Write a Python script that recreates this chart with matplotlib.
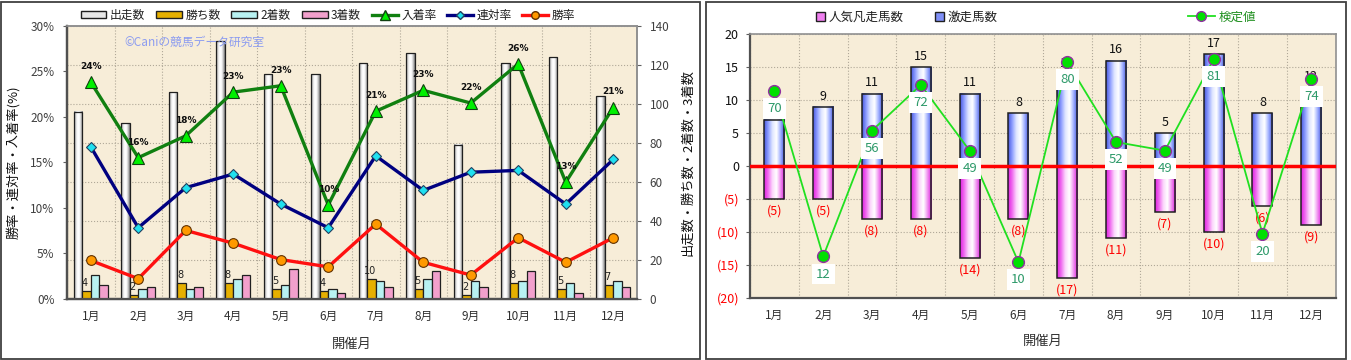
import numpy as np
import matplotlib
matplotlib.use("Agg")
import matplotlib.pyplot as plt
from matplotlib.colors import LinearSegmentedColormap
from matplotlib.patches import Patch, Rectangle
from matplotlib.lines import Line2D
from matplotlib.ticker import FixedLocator, FixedFormatter

plt.rcParams['font.family'] = ['Noto Sans CJK JP', 'DejaVu Sans']

# ---------------- data ----------------
months = ['1月', '2月', '3月', '4月', '5月', '6月', '7月', '8月', '9月', '10月', '11月', '12月']

starts = [96, 90, 106, 132, 115, 115, 121, 126, 79, 121, 124, 104]      # 出走数
wins = [4, 2, 8, 8, 5, 4, 10, 5, 2, 8, 5, 7]                              # 勝ち数
seconds = [12, 5, 5, 10, 7, 5, 9, 10, 9, 9, 8, 9]                         # 2着数
thirds = [7, 6, 6, 12, 15, 3, 6, 14, 6, 14, 3, 6]                         # 3着数
place_rate = [23.8, 15.5, 17.9, 22.7, 23.4, 10.3, 20.6, 22.9, 21.5, 25.8, 12.8, 21.0]  # 入着率
place_labels = ['24%', '16%', '18%', '23%', '23%', '10%', '21%', '23%', '22%', '26%', '13%', '21%']
quinella_rate = [16.7, 7.8, 12.2, 13.7, 10.4, 7.8, 15.7, 11.9, 13.9, 14.1, 10.4, 15.3]  # 連対率
win_rate = [4.2, 2.2, 7.5, 6.1, 4.3, 3.5, 8.2, 4.0, 2.6, 6.7, 4.0, 6.7]              # 勝率

fav_fail = [5, 5, 8, 8, 14, 8, 17, 11, 7, 10, 6, 9]        # 人気凡走馬数
longshot = [7, 9, 11, 15, 11, 8, 14, 16, 5, 17, 8, 12]     # 激走馬数
test_value = [70, 12, 56, 72, 49, 10, 80, 52, 49, 81, 20, 74]  # 検定値

left_pct_ticks = [0, 5, 10, 15, 20, 25, 30]
left_cnt_ticks = [0, 20, 40, 60, 80, 100, 120, 140]
right_ticks = [-20, -15, -10, -5, 0, 5, 10, 15, 20]
right_tick_labels = ['(20)', '(15)', '(10)', '(5)', '0', '5', '10', '15', '20']

# ---------------- helpers ----------------
W, H = 1351, 360
BG = '#F7EDD8'


def gradient(ax, bars, colors):
    cmap = LinearSegmentedColormap.from_list('g', colors)
    grad = np.linspace(0, 1, 64).reshape(1, -1)
    for b in bars:
        x, y = b.get_x(), b.get_y()
        w, h = b.get_width(), b.get_height()
        ax.imshow(grad, extent=[x, x + w, y, y + h], aspect='auto',
                  cmap=cmap, zorder=b.get_zorder() - 0.05,
                  interpolation='bilinear')
        b.set_facecolor('none')


def style_spines(ax):
    for s in ['left', 'bottom']:
        ax.spines[s].set_color('#505050')
        ax.spines[s].set_linewidth(1.6)
    for s in ['top', 'right']:
        ax.spines[s].set_color('#909090')
        ax.spines[s].set_linewidth(1.2)


fig = plt.figure(figsize=(W / 100, H / 100), dpi=100)
fig.patch.set_facecolor('white')

# panel borders
fig.add_artist(Rectangle((1 / W, 1 / H), 699 / W, 357 / H, transform=fig.transFigure,
                         fill=False, edgecolor='#404040', lw=1.3))
fig.add_artist(Rectangle((706 / W, 1 / H), 640 / W, 357 / H, transform=fig.transFigure,
                         fill=False, edgecolor='#404040', lw=1.3))

# =============== LEFT CHART ===============
x = np.arange(1, 13)
axC = fig.add_axes([67 / W, 1 - 298.7 / H, 570 / W, 273 / H])
axC.set_facecolor(BG)
bw = 0.18
b0 = axC.bar(x - 1.5 * bw, starts, bw, edgecolor='#202020', lw=0.9, zorder=3)
gradient(axC, b0, ['#8c8c8c', '#d8d8d8', '#ffffff', '#ffffff', '#c8c8c8', '#7a7a7a'])
b1 = axC.bar(x - 0.5 * bw, wins, bw, color='#E6B000', edgecolor='#202020', lw=0.9, zorder=3)
b2 = axC.bar(x + 0.5 * bw, seconds, bw, color='#B8F2F2', edgecolor='#202020', lw=0.9, zorder=3)
b3 = axC.bar(x + 1.5 * bw, thirds, bw, color='#F2A0CC', edgecolor='#202020', lw=0.9, zorder=3)
for xi, v in zip(x, wins):
    axC.annotate(str(v), (xi - 0.5 * bw, v), xytext=(-1, 2), textcoords='offset points',
                 ha='center', va='bottom', fontsize=7, color='#202020', zorder=6,
                 family='DejaVu Sans')
axC.set_xlim(0.5, 12.5)
axC.set_ylim(0, 140)
axC.set_xticks(x)
axC.set_xticklabels(months, fontsize=8.5, color='#303030')
axC.tick_params(axis='x', length=0, pad=8)
axC.xaxis.set_minor_locator(FixedLocator(np.arange(0.5, 13, 1)))
axC.tick_params(axis='x', which='minor', length=0)
axC.grid(True, which='minor', axis='x', color='#b0a898', ls=':', lw=0.8)
axC.grid(True, which='major', axis='y', color='#b0a898', ls=':', lw=0.8)
axC.set_axisbelow(True)
axC.set_xlabel('開催月', fontsize=9.5, color='#303030')
axC.xaxis.set_label_coords(0.5, -0.145)
style_spines(axC)

axP = axC.twinx()
# counts axis on the right, percent axis on the left
axC.yaxis.tick_right()
axC.yaxis.set_label_position('right')
axC.set_yticks(left_cnt_ticks)
axC.tick_params(axis='y', labelsize=8.5, labelcolor='#404040', length=3, color='#606060', pad=6)
axC.set_ylabel('出走数・勝ち数・2着数・3着数', fontsize=9.5, color='#101010')
axC.yaxis.set_label_coords(1.078, 0.5)

axP.yaxis.tick_left()
axP.yaxis.set_label_position('left')
axP.patch.set_visible(False)
axP.set_ylim(0, 30)
axP.set_yticks(left_pct_ticks)
axP.set_yticklabels([f'{t}%' for t in left_pct_ticks])
axP.tick_params(axis='y', labelsize=8.5, labelcolor='#404040', length=3, color='#606060', pad=6)
axP.plot(x, place_rate, color='#108010', lw=2.4, marker='^', ms=9, mfc='#00F000',
         mec='#104010', mew=0.8, zorder=5)
axP.plot(x, quinella_rate, color='#000080', lw=2.4, marker='D', ms=5.5, mfc='#20E0F0',
         mec='#204060', mew=0.8, zorder=5)
axP.plot(x, win_rate, color='#FF1010', lw=2.4, marker='o', ms=7, mfc='#FF9900',
         mec='#603000', mew=0.8, zorder=5)
for xi, v, lab in zip(x, place_rate, place_labels):
    axP.annotate(lab, (xi, v), xytext=(0, 8), textcoords='offset points', ha='center',
                 va='bottom', fontsize=6.5, fontweight='bold', color='#101010',
                 family='DejaVu Sans', zorder=7)
axP.set_ylabel('勝率・連対率・入着率(%)', fontsize=9.5, color='#101010')
axP.yaxis.set_label_coords(-0.082, 0.5)
style_spines(axP)
axP.text(0.10, 0.94, '©Caniの競馬データ研究室', transform=axP.transAxes, fontsize=8.5,
         color='#8C9CF0', ha='left', va='center')

handlesL = [
    Patch(facecolor='#e8e8e8', edgecolor='#202020', label='出走数'),
    Patch(facecolor='#E6B000', edgecolor='#202020', label='勝ち数'),
    Patch(facecolor='#B8F2F2', edgecolor='#202020', label='2着数'),
    Patch(facecolor='#F2A0CC', edgecolor='#202020', label='3着数'),
    Line2D([], [], color='#108010', lw=2.4, marker='^', ms=7, mfc='#00F000', mec='#104010', label='入着率'),
    Line2D([], [], color='#000080', lw=2.4, marker='D', ms=4.5, mfc='#20E0F0', mec='#204060', label='連対率'),
    Line2D([], [], color='#FF1010', lw=2.4, marker='o', ms=5.5, mfc='#FF9900', mec='#603000', label='勝率'),
]
fig.legend(handles=handlesL, loc='center', bbox_to_anchor=(328 / W, 1 - 15 / H), ncol=7,
           frameon=False, fontsize=8.5, handlelength=2.2, handleheight=0.5,
           columnspacing=0.9, handletextpad=0.3, labelcolor='#202020')

# =============== RIGHT CHART ===============
axR = fig.add_axes([750 / W, 1 - 297.7 / H, 585.7 / W, 263.4 / H])
axR.set_facecolor(BG)
rw = 0.41
neg_vals = [-v for v in fav_fail]
bn = axR.bar(x, neg_vals, rw, edgecolor='#202020', lw=1.1, zorder=3)
gradient(axR, bn, ['#e020e0', '#f070f0', '#fcd8fc', '#ffffff', '#f090f0', '#d818d8'])
bp = axR.bar(x, longshot, rw, edgecolor='#202020', lw=1.1, zorder=3)
gradient(axR, bp, ['#4858e0', '#90a0ff', '#e0e6ff', '#ffffff', '#a0b0ff', '#4050d8'])
axR.axhline(0, color='#FF0000', lw=2.5, zorder=4)
for xi, v in zip(x, longshot):
    axR.annotate(str(v), (xi, v), xytext=(0, 3), textcoords='offset points', ha='center',
                 va='bottom', fontsize=9, color='#101010', zorder=5)
for xi, v in zip(x, fav_fail):
    axR.annotate(f'({v})', (xi, -v), xytext=(0, -4), textcoords='offset points', ha='center',
                 va='top', fontsize=9, color='#FF0000', zorder=5)
axR.set_xlim(0.5, 12.5)
axR.set_ylim(-20, 20)
axR.yaxis.set_major_locator(FixedLocator(right_ticks))
axR.yaxis.set_major_formatter(FixedFormatter(right_tick_labels))
axR.tick_params(axis='y', labelsize=9, length=3, color='#606060', pad=5)
for lbl, t in zip(axR.get_yticklabels(), right_ticks):
    lbl.set_color('#FF0000' if t < 0 else '#101010')
axR.set_xticks(x)
axR.set_xticklabels(months, fontsize=8.5, color='#303030')
axR.tick_params(axis='x', length=0, pad=8)
axR.xaxis.set_minor_locator(FixedLocator(np.arange(0.5, 13, 1)))
axR.tick_params(axis='x', which='minor', length=0)
axR.grid(True, which='minor', axis='x', color='#b0a898', ls=':', lw=0.8)
axR.grid(True, which='major', axis='y', color='#b0a898', ls=':', lw=0.8)
axR.set_axisbelow(True)
axR.set_xlabel('開催月', fontsize=9.5, color='#303030')
axR.xaxis.set_label_coords(0.5, -0.14)
style_spines(axR)

axT = axR.twinx()
axT.patch.set_visible(False)
axT.set_ylim(-2.44, 89.7)
axT.set_yticks([])
for s in axT.spines.values():
    s.set_visible(False)
axT.plot(x, test_value, color='#20E020', lw=1.3, marker='o', ms=8.5, mfc='#00E000',
         mec='#9030A0', mew=1.0, zorder=6)
for xi, v in zip(x, test_value):
    axT.annotate(str(v), (xi, v), xytext=(0, -8), textcoords='offset points', ha='center',
                 va='top', fontsize=9.5, color='#2E9A6A', zorder=8,
                 bbox=dict(boxstyle='square,pad=0.3', fc='white', ec='none'))

handlesR1 = [
    Patch(facecolor='#F080F0', edgecolor='#202020', label='人気凡走馬数'),
    Patch(facecolor='#8090F8', edgecolor='#202020', label='激走馬数'),
]
fig.legend(handles=handlesR1, loc='center', bbox_to_anchor=(907 / W, 1 - 17 / H), ncol=2,
           frameon=False, fontsize=9, handlelength=0.7, handleheight=0.7,
           columnspacing=2.5, handletextpad=0.3, labelcolor='#202020')
handlesR2 = [Line2D([], [], color='#20E020', lw=1.3, marker='o', ms=7, mfc='#00E000',
                    mec='#9030A0', label='検定値')]
fig.legend(handles=handlesR2, loc='center', bbox_to_anchor=(1222 / W, 1 - 17 / H), ncol=1,
           frameon=False, fontsize=9, handlelength=2.2, handletextpad=0.3,
           labelcolor='#209020')

fig.savefig('out.png', dpi=100)
